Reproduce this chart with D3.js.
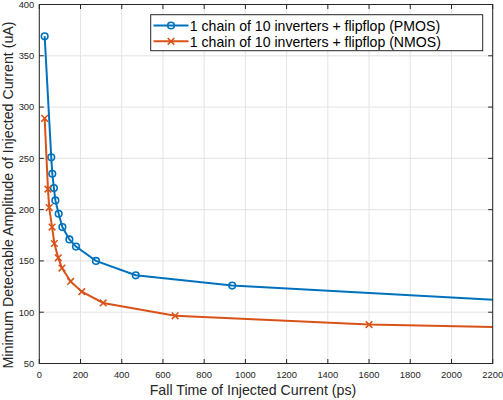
<!DOCTYPE html>
<html><head><meta charset="utf-8">
<script src="https://cdn.jsdelivr.net/npm/d3@7"></script>
<style>body{margin:0;background:#fff}svg{display:block;font-family:"Liberation Sans",Arial,Helvetica,sans-serif}</style>
</head><body><svg id="c" width="503" height="400"></svg>
<script>
const pmosX = [26, 58, 63, 71, 78, 94, 112, 146, 178, 275, 468, 936, 3000];
const pmosY = [369, 251, 235, 221, 209, 196, 183, 171, 164, 150, 136, 126, 103.6];
const nmosX = [26, 42, 48, 62, 73, 92, 110, 152, 206, 310, 659, 1600, 3000];
const nmosY = [289, 220, 202, 183, 167, 153, 143, 130, 120, 109, 96.5, 88, 82.3];
const xTicks = [0,200,400,600,800,1000,1200,1400,1600,1800,2000,2200];
const yTicks = [50,100,150,200,250,300,350,400];
const seriesNames = ["1 chain of 10 inverters + flipflop (PMOS)", "1 chain of 10 inverters + flipflop (NMOS)"];
const colors = ["#0072BD", "#D95319"];

const L = 39.3, R = 492.7, T = 4.5, B = 363.5;
const svg = d3.select("#c");
const x = d3.scaleLinear().domain([0,2200]).range([L,R]);
const y = d3.scaleLinear().domain([50,400]).range([B,T]);
const axisCol = "#262626";

// grid
const g = svg.append("g");
g.selectAll(".gx").data(xTicks).join("line").attr("x1",d=>x(d)).attr("x2",d=>x(d)).attr("y1",T).attr("y2",B).attr("stroke","#e3e3e3").attr("stroke-width",1);
g.selectAll(".gy").data(yTicks).join("line").attr("y1",d=>y(d)).attr("y2",d=>y(d)).attr("x1",L).attr("x2",R).attr("stroke","#e3e3e3").attr("stroke-width",1);

// clip
svg.append("clipPath").attr("id","clip").append("rect").attr("x",L).attr("y",T).attr("width",R-L).attr("height",B-T);

const line = d3.line().x(d=>x(d[0])).y(d=>y(d[1]));
const pdata = pmosX.map((v,i)=>[v,pmosY[i]]);
const ndata = nmosX.map((v,i)=>[v,nmosY[i]]);
const plot = svg.append("g").attr("clip-path","url(#clip)");
function drawSeries(data, col, marker){
  plot.append("path").attr("d",line(data)).attr("fill","none").attr("stroke",col).attr("stroke-width",2);
  data.forEach(d=>{
    const cx = x(d[0]), cy = y(d[1]);
    if(marker==="o"){
      plot.append("circle").attr("cx",cx).attr("cy",cy).attr("r",3.3).attr("fill","none").attr("stroke",col).attr("stroke-width",1.6);
    } else {
      const s=3.3;
      plot.append("path").attr("d",`M${cx-s},${cy-s}L${cx+s},${cy+s}M${cx-s},${cy+s}L${cx+s},${cy-s}`).attr("stroke",col).attr("stroke-width",1.6);
    }
  });
}
drawSeries(pdata, colors[0], "o");
drawSeries(ndata, colors[1], "x");

// axes box
svg.append("rect").attr("x",L).attr("y",T).attr("width",R-L).attr("height",B-T).attr("fill","none").attr("stroke",axisCol).attr("stroke-width",1);
const tl = 4.5;
const ax = svg.append("g").attr("stroke",axisCol).attr("stroke-width",1);
xTicks.forEach(d=>{
  ax.append("line").attr("x1",x(d)).attr("x2",x(d)).attr("y1",B).attr("y2",B-tl);
  ax.append("line").attr("x1",x(d)).attr("x2",x(d)).attr("y1",T).attr("y2",T+tl);
});
yTicks.forEach(d=>{
  ax.append("line").attr("y1",y(d)).attr("y2",y(d)).attr("x1",L).attr("x2",L+tl);
  ax.append("line").attr("y1",y(d)).attr("y2",y(d)).attr("x1",R).attr("x2",R-tl);
});
svg.selectAll(".xl").data(xTicks).join("text").attr("x",d=>x(d)).attr("y",B+14).attr("text-anchor","middle").attr("font-size",9.4).attr("fill",axisCol).text(d=>d);
svg.selectAll(".yl").data(yTicks).join("text").attr("x",L-5).attr("y",d=>y(d)+3.3).attr("text-anchor","end").attr("font-size",9.4).attr("fill",axisCol).text(d=>d);

svg.append("text").attr("x",253).attr("y",394.5).attr("text-anchor","middle").attr("font-size",14.2).attr("fill",axisCol).text("Fall Time of Injected Current (ps)");
svg.append("text").attr("transform",`translate(12.5,195) rotate(-90)`).attr("text-anchor","middle").attr("font-size",14.2).attr("fill",axisCol).text("Minimum Detectable Amplitude of Injected Current (uA)");

// legend
const lg = svg.append("g");
lg.append("rect").attr("x",150.7).attr("y",14.7).attr("width",332).attr("height",36).attr("fill","#fff").attr("stroke",axisCol).attr("stroke-width",1);
[0,1].forEach(i=>{
  const cy = 25.5 + i*15.8;
  lg.append("line").attr("x1",153.5).attr("x2",188.5).attr("y1",cy).attr("y2",cy).attr("stroke",colors[i]).attr("stroke-width",2);
  if(i===0) lg.append("circle").attr("cx",171).attr("cy",cy).attr("r",3.3).attr("fill","none").attr("stroke",colors[i]).attr("stroke-width",1.6);
  else { const s=3.3; lg.append("path").attr("d",`M${171-s},${cy-s}L${171+s},${cy+s}M${171-s},${cy+s}L${171+s},${cy-s}`).attr("stroke",colors[i]).attr("stroke-width",1.6); }
  lg.append("text").attr("x",189.8).attr("y",cy+5.5).attr("font-size",14.1).attr("fill","#000").text(seriesNames[i]);
});
</script></body></html>
